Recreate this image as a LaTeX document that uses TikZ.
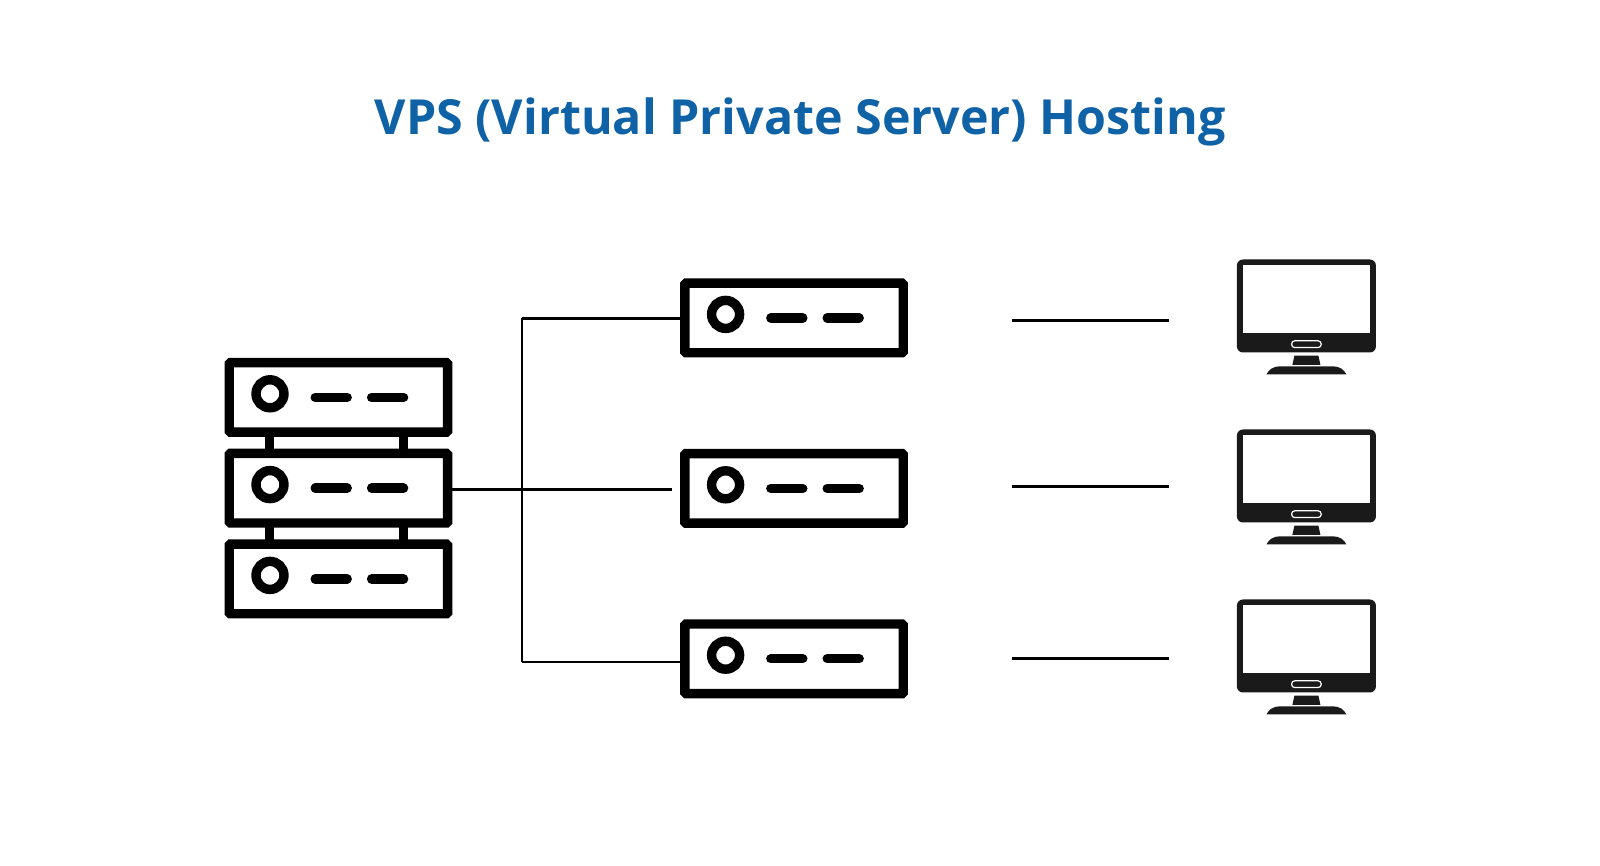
\documentclass[tikz,border=0pt]{standalone}
\usepackage{fontspec}
\setmainfont{Open Sans}
\usetikzlibrary{positioning}
\definecolor{titleblue}{HTML}{1062A6}
\definecolor{pcblack}{HTML}{1A1A1A}
\tikzset{
    srvbox/.style={
        draw, line width = 0.235cm,
        minimum width = 5.46cm,
        minimum height = 1.74cm,
        outer sep = 0pt,
        rounded corners = 0.03cm
    },
    pcbody/.style={
        fill = pcblack, minimum width = 3.475cm,
        minimum height = 2.325cm,
        outer sep = 0pt,
        rounded corners = 0.15cm
    },
    pcscreen/.style={
        fill = white, minimum width = 3.175cm,
        minimum height = 1.7cm,
        outer sep = 0pt
    },
    wire/.style = {line width = 0.07cm},
    strut/.style = {line width = 0.235cm},
    srvmark/.style = {line width = 0.235cm, line cap = round}
}
% lamp and two slots of a server box
\newcommand{\srvbits}[1]{
    \draw[strut] ([xshift=-1.71cm,yshift=0.09cm]#1.center) circle (0.35cm);
    \draw[srvmark] ([xshift=-0.58cm]#1.center) -- +(0.8,0);
    \draw[srvmark] ([xshift=0.83cm]#1.center) -- +(0.8,0);
}
% slot, neck and foot of a monitor
\newcommand{\pcbits}[1]{
    \draw[white, line width = 0.03cm, rounded corners = 0.08cm] ([xshift=-0.37cm,yshift=-0.87cm]#1.center) rectangle +(0.74,-0.17);
    \fill[pcblack] ([xshift=-0.3cm,yshift=-1.24cm]#1.center) -- +(0.6,0) -- +(0.65,-0.23) -- +(-0.05,-0.23) -- cycle;
    \begin{scope}[shift={(#1.center)}]
        \fill[pcblack] (-1,-1.71) .. controls (-0.93,-1.59) and (-0.85,-1.51) .. (-0.65,-1.51)
            -- (0.65,-1.51) .. controls (0.85,-1.51) and (0.93,-1.59) .. (1,-1.71) -- cycle;
    \end{scope}
}
\begin{document}
\begin{tikzpicture}
    \useasboundingbox (0,0) rectangle (40,21.65);

    \node[text=titleblue, font=\fontsize{34.4pt}{42pt}\selectfont\bfseries] (title) at (20,18.59) {VPS (Virtual Private Server) Hosting};

    % rack on the left
    \node[srvbox] (rack1) at (8.46,11.715) {};
    \node[srvbox, below = 0.53 of rack1] (rack2) {};
    \node[srvbox, below = 0.53 of rack2] (rack3) {};
    \draw[strut] ([xshift=-1.73cm]rack1.south) -- ([xshift=-1.73cm]rack2.north);
    \draw[strut] ([xshift=1.63cm]rack1.south) -- ([xshift=1.63cm]rack2.north);
    \draw[strut] ([xshift=-1.73cm]rack2.south) -- ([xshift=-1.73cm]rack3.north);
    \draw[strut] ([xshift=1.63cm]rack2.south) -- ([xshift=1.63cm]rack3.north);
    \srvbits{rack1}
    \srvbits{rack2}
    \srvbits{rack3}

    % virtual servers
    \node[srvbox] (srv1) at (19.85,13.7) {};
    \node[srvbox, below = 2.52 of srv1] (srv2) {};
    \node[srvbox, below = 2.52 of srv2] (srv3) {};
    \srvbits{srv1}
    \srvbits{srv2}
    \srvbits{srv3}

    % monitors
    \node[pcbody] (pc1) at (32.66,14) {};
    \node[pcbody, below = 1.925 of pc1] (pc2) {};
    \node[pcbody, below = 1.925 of pc2] (pc3) {};
    \node[pcscreen] (screen1) at ([yshift=0.1625cm]pc1.center) {};
    \node[pcscreen] (screen2) at ([yshift=0.1625cm]pc2.center) {};
    \node[pcscreen] (screen3) at ([yshift=0.1625cm]pc3.center) {};
    \pcbits{pc1}
    \pcbits{pc2}
    \pcbits{pc3}

    % bus between rack and servers
    \coordinate (busT) at (13.05,13.69);
    \coordinate (busB) at (13.05,5.1);
    \coordinate (stub) at (16.8,9.41);
    \draw[wire] (busT) -- (busB);
    \draw[wire] (busT) -- (srv1.west |- busT);
    \draw[wire] (busB) -- (srv3.west |- busB);
    \draw[wire] (rack2.east |- stub) -- (stub);

    % loose lines in front of the monitors
    \coordinate (gap1a) at (25.3,13.63);
    \coordinate (gap1b) at (29.22,13.63);
    \coordinate (gap2a) at (25.3,9.49);
    \coordinate (gap2b) at (29.22,9.49);
    \coordinate (gap3a) at (25.3,5.18);
    \coordinate (gap3b) at (29.22,5.18);
    \draw[wire] (gap1a) -- (gap1b);
    \draw[wire] (gap2a) -- (gap2b);
    \draw[wire] (gap3a) -- (gap3b);

\end{tikzpicture}
\end{document}
